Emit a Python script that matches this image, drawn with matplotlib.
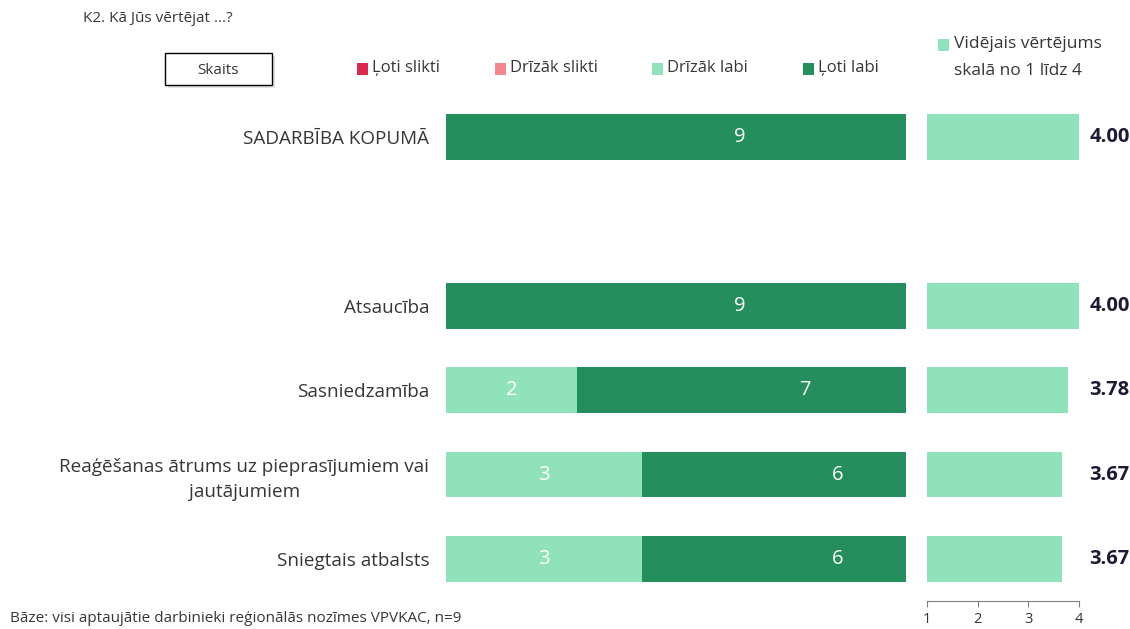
import matplotlib.pyplot as plt
from matplotlib.patches import Rectangle

plt.rcParams['font.family'] = ['Open Sans', 'DejaVu Sans']

categories = [
    "SADARBĪBA KOPUMĀ",
    "Atsaucība",
    "Sasniedzamība",
    "Reaģēšanas ātrums uz pieprasījumiem vai\njautājumiem",
    "Sniegtais atbalsts",
]
rows = [0, 2, 3, 4, 5]  # one empty slot after the total row
loti_slikti = [0, 0, 0, 0, 0]
drizak_slikti = [0, 0, 0, 0, 0]
drizak_labi = [0, 0, 2, 3, 3]
loti_labi = [9, 9, 7, 6, 6]
vid_vertejums = [4.00, 4.00, 3.78, 3.67, 3.67]

series_names = ["Ļoti slikti", "Drīzāk slikti", "Drīzāk labi", "Ļoti labi"]
colors = ["#D92B50", "#F4888E", "#8FE2BA", "#248F5C"]
avg_color = "#8FE2BA"
text_color = "#363636"

W, H = 1130, 629
fig = plt.figure(figsize=(11.3, 6.29), dpi=100)
ax = fig.add_axes([446 / W, 28 / H, 460 / W, 506 / H])
ax2 = fig.add_axes([927 / W, 28 / H, 152 / W, 506 / H])

# the stacked bars run past the visible window and get cut at its right edge
bar_h = 0.545
left = [0] * len(rows)
for vals, col in zip([loti_slikti, drizak_slikti, drizak_labi, loti_labi], colors):
    ax.barh(rows, vals, left=left, height=bar_h, color=col, edgecolor="none")
    for r, v, l in zip(rows, vals, left):
        if v > 0:
            ax.text(l + v / 2, r, str(v), ha="center", va="center",
                    color="white", fontsize=14.5)
    left = [a + b for a, b in zip(left, vals)]

ax.set_xlim(0, 7.04)
ax.set_ylim(5.5, -0.5)
ax.set_yticks(rows)
ax.set_yticklabels(categories, fontsize=13.6, color=text_color,
                   linespacing=1.45)
ax.tick_params(axis="y", length=0, pad=12)
for lab in ax.get_yticklabels():
    lab.set_horizontalalignment("right")
    lab.set_multialignment("center")
ax.set_xticks([])
for s in ax.spines.values():
    s.set_visible(False)

ax2.barh(rows, [v - 1 for v in vid_vertejums], left=1, height=bar_h,
         color=avg_color, edgecolor="none")
for r, v in zip(rows, vid_vertejums):
    ax2.text(4.2, r, f"{v:.2f}", ha="left", va="center", fontsize=14.5,
             fontweight="bold", color="#1f1a33")
ax2.set_xlim(1, 4)
ax2.set_ylim(5.5, -0.5)
ax2.set_yticks([])
ax2.set_xticks([1, 2, 3, 4])
ax2.tick_params(axis="x", colors="#808080", labelcolor=text_color,
                labelsize=10.5, length=4, pad=4)
for k in ["top", "right", "left"]:
    ax2.spines[k].set_visible(False)
ax2.spines["bottom"].set_color("#808080")

fig.text(83 / W, 1 - 18 / H, "K2. Kā Jūs vērtējat ...?", fontsize=11,
         color=text_color, va="center")

# "Skaits" box with a soft shadow
fig.patches.append(Rectangle((168 / W, 1 - 88 / H), 107 / W, 32 / H,
                             transform=fig.transFigure, facecolor="#d0d0d0",
                             edgecolor="none", alpha=0.6))
fig.patches.append(Rectangle((165 / W, 1 - 85 / H), 107 / W, 32 / H,
                             transform=fig.transFigure, facecolor="white",
                             edgecolor="black", linewidth=1))
fig.text(218 / W, 1 - 70 / H, "Skaits", fontsize=11, color=text_color,
         ha="center", va="center")

legend_x = [357, 495, 652, 803]
for x, name, col in zip(legend_x, series_names, colors):
    fig.patches.append(Rectangle((x / W, 1 - 75 / H), 11 / W, 12 / H,
                                 transform=fig.transFigure, facecolor=col,
                                 edgecolor="none"))
    fig.text((x + 15) / W, 1 - 68 / H, name, fontsize=12,
             color=text_color, va="center")

fig.patches.append(Rectangle((938 / W, 1 - 51 / H), 11 / W, 12 / H,
                             transform=fig.transFigure, facecolor=avg_color,
                             edgecolor="none"))
fig.text(954 / W, 1 - 44 / H, "Vidējais vērtējums", fontsize=12.5,
         color=text_color, va="center")
fig.text(954 / W, 1 - 71 / H, "skalā no 1 līdz 4", fontsize=12.5,
         color=text_color, va="center")

fig.text(10 / W, 1 - 619 / H, "Bāze: visi aptaujātie darbinieki reģionālās nozīmes VPVKAC, n=9",
         fontsize=11, color=text_color, va="center")

fig.savefig("out.png", dpi=100, facecolor="white")
